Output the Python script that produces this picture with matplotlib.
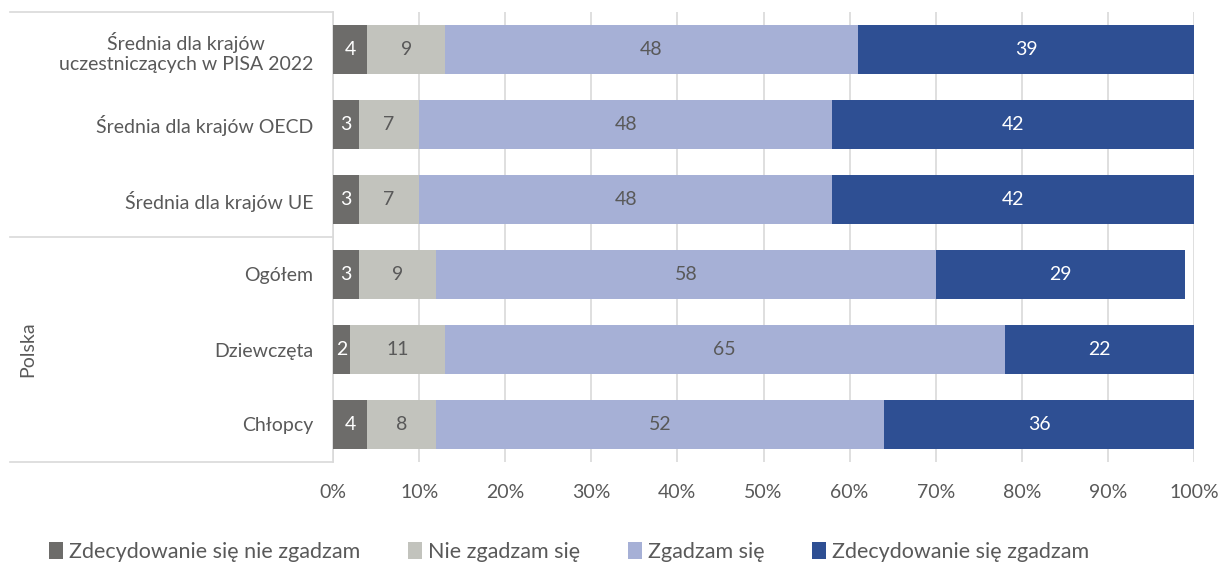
import numpy as np
import matplotlib
matplotlib.use("Agg")
from matplotlib import pyplot as plt
from matplotlib.patches import Patch

plt.rcParams['font.family'] = ['Lato', 'DejaVu Sans']

categories = ['Średnia dla krajów\nuczestniczących w PISA 2022',
              'Średnia dla krajów OECD',
              'Średnia dla krajów UE',
              'Ogółem',
              'Dziewczęta',
              'Chłopcy']
series_names = ['Zdecydowanie się nie zgadzam', 'Nie zgadzam się',
                'Zgadzam się', 'Zdecydowanie się zgadzam']
strongly_disagree = [4, 3, 3, 3, 2, 4]
disagree = [9, 7, 7, 9, 11, 8]
agree = [48, 48, 48, 58, 65, 52]
strongly_agree = [39, 42, 42, 29, 22, 36]
group_label = 'Polska'

colors = ['#6d6c6a', '#c2c3bd', '#a6b0d6', '#2e4f93']
label_colors = ['white', '#595959', '#595959', 'white']
grey = '#595959'
line_grey = '#d9d9d9'

fig = plt.figure(figsize=(12.18, 5.7), dpi=100)
ax = fig.add_axes([333 / 1218, 1 - 462 / 570, 861 / 1218, 450 / 570])

y = np.arange(len(categories))
left = np.zeros(len(categories))
for vals, name, c, lc in zip([strongly_disagree, disagree, agree, strongly_agree],
                             series_names, colors, label_colors):
    vals = np.array(vals, dtype=float)
    bars = ax.barh(y, vals, left=left, height=0.65, color=c, label=name, zorder=3)
    ax.bar_label(bars, labels=[str(int(v)) for v in vals], label_type='center',
                 color=lc, fontsize=14)
    left += vals

ax.set_xlim(0, 100)
ax.set_ylim(len(categories) - 0.5, -0.5)
ax.set_xticks(np.arange(0, 101, 10))
ax.set_xticklabels([f'{v}%' for v in range(0, 101, 10)])
ax.set_yticks(y)
ax.set_yticklabels(categories, multialignment='center')
ax.tick_params(axis='x', length=0, pad=16, labelsize=14, labelcolor=grey)
ax.tick_params(axis='y', length=0, pad=14, labelsize=14, labelcolor=grey)
ax.grid(axis='x', color=line_grey, linewidth=1.2, zorder=0)

for s in ['top', 'right', 'bottom']:
    ax.spines[s].set_visible(False)
ax.spines['left'].set_color(line_grey)
ax.spines['left'].set_linewidth(1.2)

# category group separators on the left
trans = ax.get_yaxis_transform()
x0 = (10 - 333) / 861
for yy in [-0.5, 2.5, 5.5]:
    ax.plot([x0, 0], [yy, yy], color=line_grey, linewidth=1.2,
            transform=trans, clip_on=False)
ax.text((28 - 333) / 861, 4, group_label, rotation=90, ha='center', va='center',
        color=grey, fontsize=14, transform=trans)

handles = [Patch(facecolor=c) for c in colors]
fig.legend(handles, series_names, loc='center left', ncol=4,
           bbox_to_anchor=(40 / 1218, 1 - 552 / 570), frameon=False,
           fontsize=15.5, labelcolor=grey, handlelength=0.65, handleheight=0.85,
           handletextpad=0.3, columnspacing=2.2, borderaxespad=0)

fig.savefig('out.png', dpi=100)
